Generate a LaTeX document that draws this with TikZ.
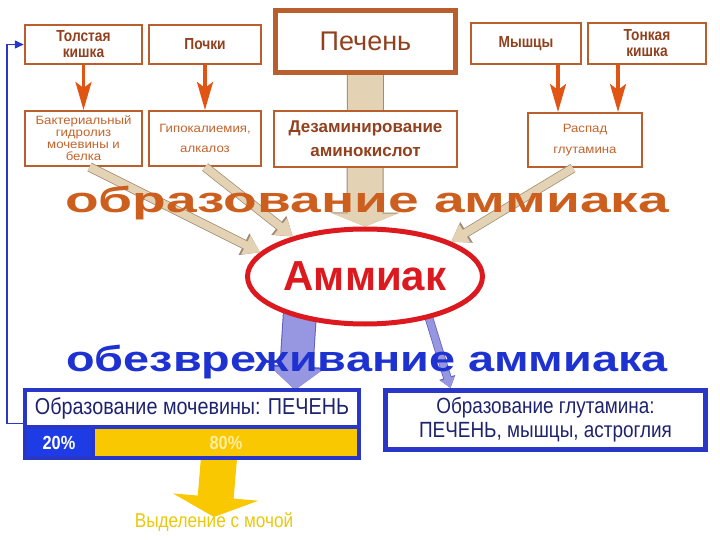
\documentclass[tikz,border=0pt]{standalone}
\usepackage{fontspec}
\setmainfont{Liberation Sans}[FakeStretch=0.86]
\newfontfamily\plainfont{Liberation Sans}
\newfontfamily\smallfont{Liberation Sans}[FakeStretch=1.1]
\newfontfamily\headfont{Liberation Sans}[FakeStretch=1.53]
\newfontfamily\headfontb{Liberation Sans}[FakeStretch=1.30]
\usetikzlibrary{positioning, shapes.geometric, arrows.meta, backgrounds}
\definecolor{amBrown}{RGB}{185, 95, 45}
\definecolor{amText}{RGB}{145, 65, 30}
\definecolor{amSoft}{RGB}{195, 100, 45}
\definecolor{amOrange}{RGB}{225, 85, 20}
\definecolor{amHead}{RGB}{205, 95, 30}
\definecolor{amBeige}{RGB}{228, 210, 180}
\definecolor{amEdge}{RGB}{160, 140, 115}
\definecolor{amRed}{RGB}{220, 25, 30}
\definecolor{amDeep}{RGB}{30, 50, 210}
\definecolor{amFrame}{RGB}{40, 55, 200}
\definecolor{amBlue}{RGB}{30, 60, 230}
\definecolor{amNavy}{RGB}{30, 35, 110}
\definecolor{amLilac}{RGB}{150, 150, 225}
\definecolor{amLilacEdge}{RGB}{95, 95, 190}
\definecolor{amYellow}{RGB}{250, 200, 0}
\definecolor{amPale}{RGB}{255, 238, 160}
\definecolor{amUrine}{RGB}{235, 200, 10}
\tikzset{
    source/.style={
        rectangle,
        draw=amBrown,
        line width=2.5pt,
        fill=white,
        text=amText,
        align=center,
        inner sep=1pt,
        font=\bfseries\fontsize{16}{16}\selectfont
    },
    process/.style={
        source,
        line width=2pt,
        text=amSoft,
        font=\smallfont\fontsize{12}{12}\selectfont
    },
    hub/.style={
        ellipse,
        draw=amRed,
        line width=5pt,
        fill=white,
        text=amRed,
        inner sep=0pt,
        minimum width=235pt,
        minimum height=95pt,
        font=\plainfont\bfseries\fontsize{42}{42}\selectfont
    },
    target/.style={
        rectangle,
        draw=amFrame,
        line width=4pt,
        fill=white,
        text=amNavy,
        align=center,
        inner sep=1pt
    },
    share/.style={
        rectangle,
        draw=amFrame,
        line width=4pt,
        minimum height=31pt,
        outer sep=0pt,
        inner sep=0pt,
        text=white,
        font=\bfseries\fontsize{19}{19}\selectfont
    },
    headline/.style={
        anchor=base,
        inner sep=0pt
    },
    feed/.style={
        draw=amOrange,
        line width=3.5pt,
        -{Stealth[length=28pt, width=16pt, inset=6pt]}
    },
    mix/.style={
        draw=amBeige,
        line width=8pt,
        -{Triangle[length=16pt, width=20pt]},
        preaction={draw=amEdge, line width=9.5pt, -{Triangle[length=18pt, width=23pt]}}
    },
    mixbig/.style={
        draw=amBeige,
        line width=35pt,
        -{Triangle[length=13pt, width=65pt]},
        preaction={draw=amEdge, line width=37pt, -{Triangle[length=14pt, width=69pt]}}
    },
    clean/.style={
        draw=amLilac,
        line width=32pt,
        -{Triangle[length=22pt, width=52pt]},
        preaction={draw=amLilacEdge, line width=34pt, -{Triangle[length=24pt, width=56pt]}}
    },
    cleanthin/.style={
        draw=amLilac,
        line width=7pt,
        -{Triangle[length=10pt, width=14pt]},
        preaction={draw=amLilacEdge, line width=8.5pt, -{Triangle[length=11pt, width=16pt]}}
    },
    outflow/.style={
        draw=amYellow,
        line width=36pt,
        -{Triangle[length=20pt, width=85pt]}
    },
    back/.style={
        draw=amFrame,
        line width=1.5pt,
        -{Triangle[length=9pt, width=8pt]}
    }
}

\begin{document}
\begin{tikzpicture}[x=1pt, y=-1pt]
  \useasboundingbox (0,0) rectangle (720,540);

  % Sources
  \node[source, minimum width=117pt, minimum height=39pt] (tolst) at (83.5,44.5) {Толстая\\кишка};
  \node[source, minimum width=112pt, minimum height=39pt] (pochki) at (205,44.5) {Почки};
  \node[source, line width=5pt, minimum width=180pt, minimum height=62pt,
        font=\plainfont\fontsize{27}{27}\selectfont] (pechen) at (365.5,41.5) {Печень};
  \node[source, minimum width=110pt, minimum height=41pt] (myshcy) at (526,43.5) {Мышцы};
  \node[source, minimum width=118pt, minimum height=41pt] (tonkaya) at (647,43.5) {Тонкая\\кишка};

  % By-products
  \node[process, minimum width=117pt, minimum height=55pt] (bakt) at (83.5,138.5) {Бактериальный\\гидролиз\\мочевины и\\белка};
  \node[process, minimum width=112pt, minimum height=55pt,
        font=\smallfont\fontsize{12}{20}\selectfont] (gipo) at (205,138.5) {Гипокалиемия,\\алкалоз};
  \node[process, minimum width=183pt, minimum height=56pt, text=amText,
        font=\plainfont\bfseries\fontsize{17}{24}\selectfont] (dezam) at (365.5,139) {Дезаминирование\\аминокислот};
  \node[process, minimum width=114pt, minimum height=54pt,
        font=\smallfont\fontsize{12}{21}\selectfont] (raspad) at (585,140) {Распад\\глутамина};

  % Central node
  \node[hub] (amm) at (365,276.5) {Аммиак};

  % Detoxication
  \node[target, minimum width=334pt, minimum height=37pt, outer sep=0pt,
        font=\fontsize{23}{23}\selectfont] (urea) at (192,408.5) {Образование мочевины: ПЕЧЕНЬ};
  \node[share, fill=amBlue, anchor=north west, minimum width=68pt] (p20) at (urea.south west) {20\%};
  \node[share, fill=amYellow, text=amPale, anchor=north west, minimum width=266pt] (p80) at (p20.north east) {80\%};
  \node[target, line width=5pt, minimum width=320pt, minimum height=59pt,
        font=\fontsize{22}{24}\selectfont] (glut) at (545.5,420) {Образование глутамина:\\ПЕЧЕНЬ, мышцы, астроглия};
  \node[text=amUrine, font=\fontsize{20}{20}\selectfont, inner sep=0pt] (urine) at (214,522) {Выделение с мочой};

  % Connections
  \draw[feed] (tolst) -- (bakt);
  \draw[feed] (pochki) -- (gipo);
  \draw[feed] ([xshift=32pt]myshcy.south) -- ([xshift=-27pt]raspad.north);
  \draw[feed] ([xshift=-29pt]tonkaya.south) -- ([xshift=33pt]raspad.north);

  \draw[mix] ([xshift=6pt]bakt.south) -- (amm.167);
  \draw[mix] (gipo.south) -- (amm.151);
  \draw[mix] ([xshift=-12pt]raspad.south) -- (amm.22);

  \begin{scope}[on background layer]
    \draw[mixbig] (pechen) -- (amm);
    \draw[clean] ([yshift=10pt]amm.213) -- ([xshift=103pt]urea.north);
    \draw[cleanthin] ([yshift=10pt]amm.-35) -- ([xshift=-95pt]glut.north);
    \draw[outflow] ([xshift=-7pt]p80.south) -- ([yshift=5pt]urine.center);
  \end{scope}

  \draw[back] ([yshift=-15pt]urea.west) -- ++(-18,0) |- (tolst.west);

  % Headings
  \node[headline, text=amHead, font=\headfont\bfseries\fontsize{36}{36}\selectfont] (make) at (367,213) {образование аммиака};
  \node[headline, text=amDeep, font=\headfontb\bfseries\fontsize{36}{36}\selectfont] (clean) at (367,371) {обезвреживание аммиака};
\end{tikzpicture}
\end{document}
